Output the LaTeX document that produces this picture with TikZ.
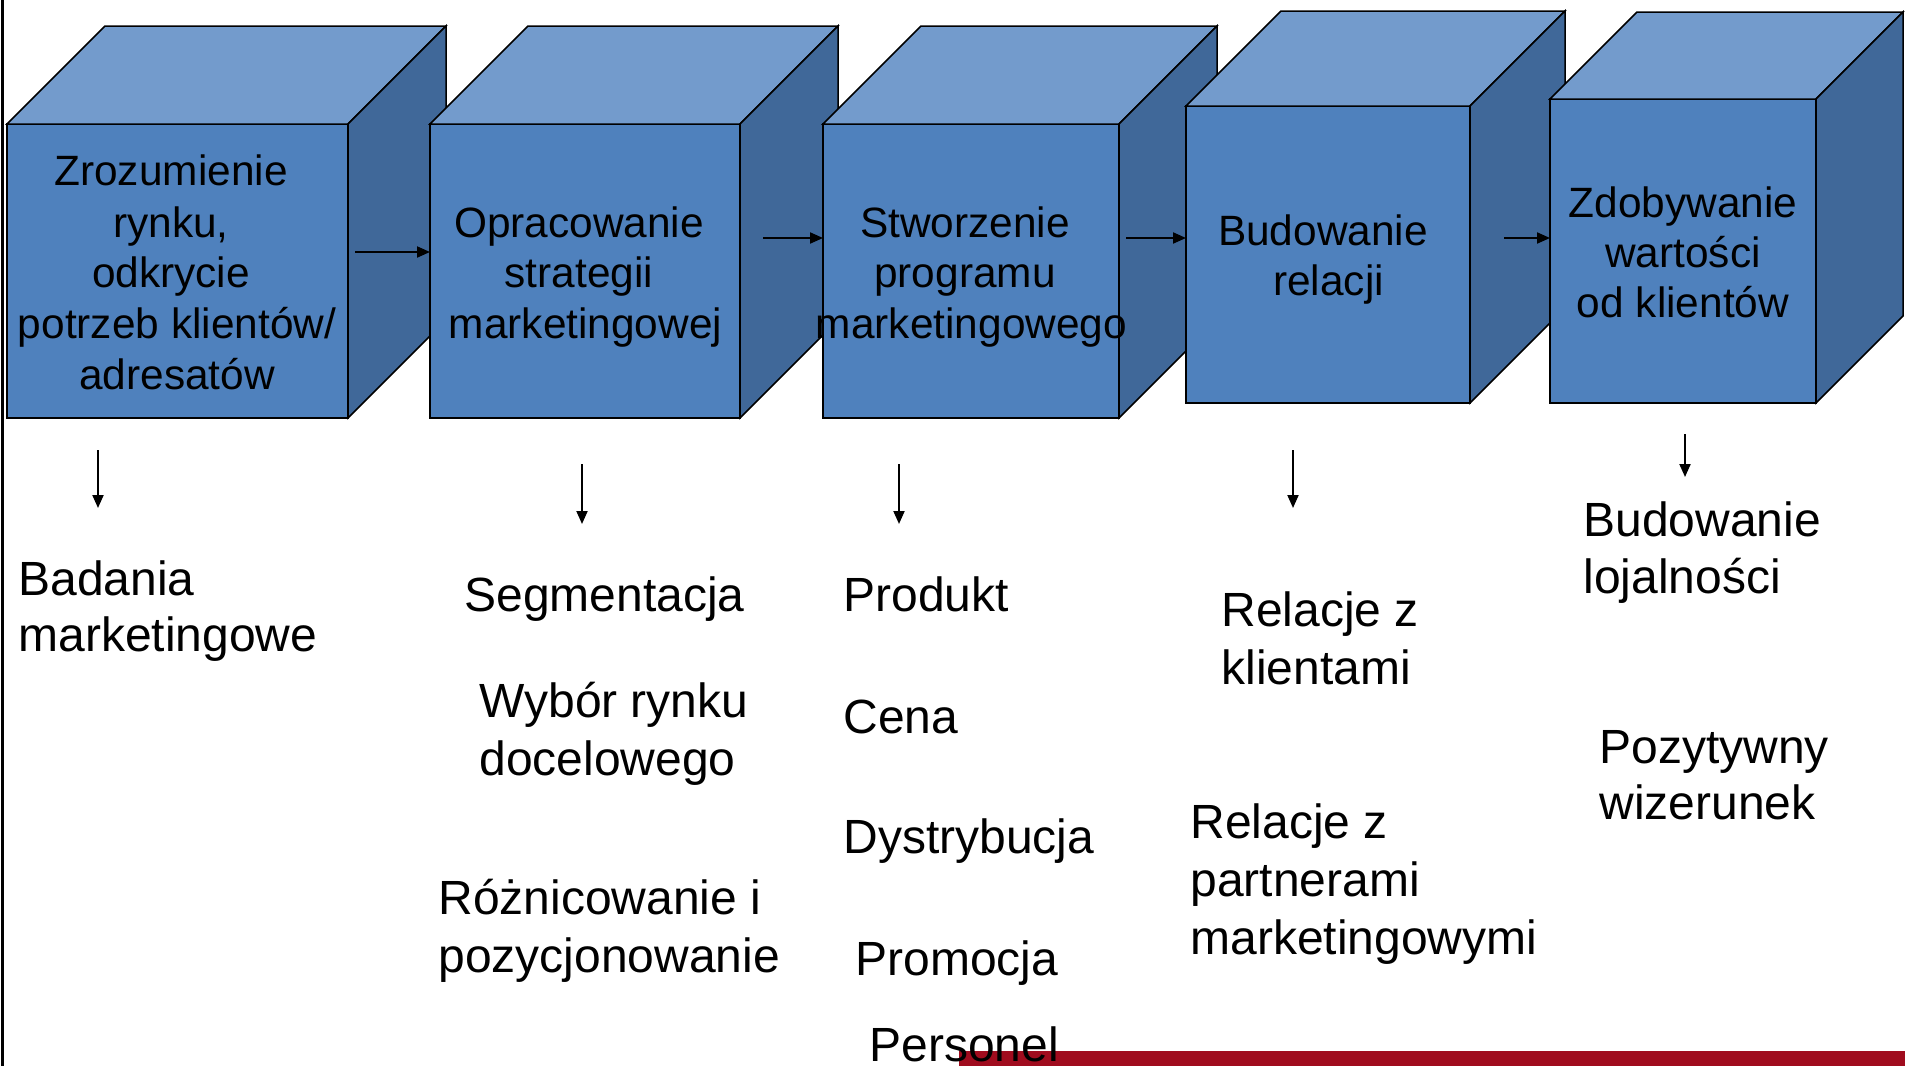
\documentclass[tikz,border=0pt]{standalone}
\usepackage{fontspec}
\setmainfont{Liberation Sans}
\usetikzlibrary{arrows.meta,calc}
\definecolor{frontc}{RGB}{79,129,189}
\definecolor{topc}{RGB}{115,155,204}
\definecolor{sidec}{RGB}{64,104,153}
\definecolor{barred}{RGB}{160,12,30}
\newcommand\mkcube[6]{%
  \node[frontface, minimum width={(#4-#2)*0.5pt}, minimum height={(#5-#3)*0.5pt}] (#1) at (#2,#3) {};
  \filldraw[topface] (#1.north west) -- ++(#6,-#6) -- ++(#4-#2,0) -- (#1.north east) -- cycle;
  \filldraw[sideface] (#1.north east) -- ++(#6,-#6) -- ++(0,#5-#3) -- (#1.south east) -- cycle;
}
\begin{document}
\begin{tikzpicture}[x=0.5pt,y=-0.5pt,
  frontface/.style={draw=black, line width=0.75pt, fill=frontc, inner sep=0pt, outer sep=0pt, anchor=north west},
  topface/.style={draw=black, line width=0.75pt, fill=topc, line join=miter},
  sideface/.style={draw=black, line width=0.75pt, fill=sidec, line join=miter},
  ctext/.style={font=\fontsize{21.2}{25.7}\selectfont, inner sep=0pt, anchor=base},
  ltext/.style={font=\fontsize{24}{29}\selectfont, inner sep=0pt, anchor=base west},
  arr/.style={line width=1pt, -{Triangle[length=6.5pt,width=5.5pt]}}]
\useasboundingbox (0,0) rectangle (1905,1066);
\fill[white] (0,0) rectangle (1905,1066);
% left rule
\fill[black] (0.5,0) rectangle (3.5,1066);
% cubes
\mkcube{c1}{7}{124}{348}{418}{98}
\mkcube{c2}{430}{124}{740}{418}{98}
\mkcube{c3}{823}{124}{1119}{418}{98}
\mkcube{c4}{1186}{106}{1470}{403}{95}
\mkcube{c5}{1550}{99}{1816}{403}{87}
% cube texts
\node[ctext] (t1a) at (171,185) {Zrozumienie};
\node[ctext] (t1b) at (171,237) {rynku,};
\node[ctext] (t1c) at (171,287) {odkrycie};
\node[ctext] (t1d) at (177,338) {potrzeb klientów/};
\node[ctext] (t1e) at (177,389) {adresatów};
\node[ctext] (t2a) at (579,237) {Opracowanie};
\node[ctext] (t2b) at (579,287) {strategii};
\node[ctext] (t2c) at (585.5,338) {marketingowej};
\node[ctext] (t3a) at (965,237) {Stworzenie};
\node[ctext] (t3b) at (965,287) {programu};
\node[ctext] (t3c) at (971.5,338) {marketingowego};
\node[ctext] (t4a) at (1323,245) {Budowanie};
\node[ctext] (t4b) at (1328.5,295) {relacji};
\node[ctext] (t5a) at (1683,217) {Zdobywanie};
\node[ctext] (t5b) at (1683,267) {wartości};
\node[ctext] (t5c) at (1683,317) {od klientów};
% horizontal arrows
\coordinate (a1) at (355,252);
\coordinate (a2) at (763,238);
\coordinate (a3) at (1126,238);
\coordinate (a4) at (1504,238);
\draw[arr] (a1) -- (a1 -| c2.west);
\draw[arr] (a2) -- (a2 -| c3.west);
\draw[arr] (a3) -- (a3 -| c4.west);
\draw[arr] (a4) -- (a4 -| c5.west);
% down arrows
\coordinate (d1s) at (98,450);   \coordinate (d1e) at (98,508);
\coordinate (d2s) at (582,464);  \coordinate (d2e) at (582,524);
\coordinate (d3s) at (899,464);  \coordinate (d3e) at (899,524);
\coordinate (d4s) at (1293,450); \coordinate (d4e) at (1293,508);
\coordinate (d5s) at (1685,434); \coordinate (d5e) at (1685,477);
\draw[arr] (d1s) -- (d1e);
\draw[arr] (d2s) -- (d2e);
\draw[arr] (d3s) -- (d3e);
\draw[arr] (d4s) -- (d4e);
\draw[arr] (d5s) -- (d5e);
% red bar
\fill[barred] (959,1051) rectangle (1905,1066);
% lower texts
\node[ltext] (l1a) at (18,595) {Badania};
\node[ltext] (l1b) at (18,651) {marketingowe};
\node[ltext] (l2a) at (464,611) {Segmentacja};
\node[ltext] (l2b) at (479,717) {Wybór rynku};
\node[ltext] (l2c) at (479,775) {docelowego};
\node[ltext] (l2d) at (438,914) {Różnicowanie i};
\node[ltext] (l2e) at (438,972) {pozycjonowanie};
\node[ltext] (l3a) at (843,611) {Produkt};
\node[ltext] (l3b) at (843,733) {Cena};
\node[ltext] (l3c) at (843,853) {Dystrybucja};
\node[ltext] (l3d) at (855,975) {Promocja};
\node[ltext] (l3e) at (869,1061) {Personel};
\node[ltext] (l4a) at (1221,626) {Relacje z};
\node[ltext] (l4b) at (1221,684) {klientami};
\node[ltext] (l4c) at (1190,838) {Relacje z};
\node[ltext] (l4d) at (1190,896) {partnerami};
\node[ltext] (l4e) at (1190,954) {marketingowymi};
\node[ltext] (l5a) at (1583,536) {Budowanie};
\node[ltext] (l5b) at (1583,593) {lojalności};
\node[ltext] (l5c) at (1599,763) {Pozytywny};
\node[ltext] (l5d) at (1599,819) {wizerunek};
\end{tikzpicture}
\end{document}
